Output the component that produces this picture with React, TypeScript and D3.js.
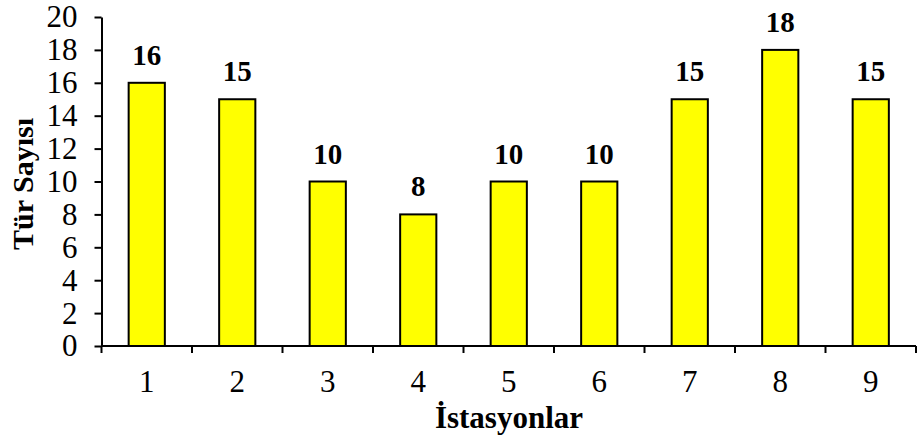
import React, { useEffect, useRef } from "react";
import * as d3 from "d3";

const stations = ["1", "2", "3", "4", "5", "6", "7", "8", "9"];
const speciesCount = [16, 15, 10, 8, 10, 10, 15, 18, 15];
const yTicks = [0, 2, 4, 6, 8, 10, 12, 14, 16, 18, 20];

const App: React.FC = () => {
  const ref = useRef<SVGSVGElement>(null);

  useEffect(() => {
    const width = 920;
    const height = 439;
    const left = 101.5;
    const right = 916;
    const top = 17;
    const bottom = 346;
    const font = "'Liberation Serif', 'Times New Roman', serif";

    const svg = d3.select(ref.current);
    svg.selectAll("*").remove();
    svg.attr("width", width).attr("height", height);

    const x = d3.scaleBand<string>().domain(stations).range([left, right]).paddingInner(0.6).paddingOuter(0.3);
    const xBand = d3.scaleBand<string>().domain(stations).range([left, right]);
    const y = d3.scaleLinear().domain([0, 20]).range([bottom, top]);

    // bars
    svg
      .append("g")
      .selectAll("rect")
      .data(speciesCount)
      .join("rect")
      .attr("x", (_, i) => x(stations[i])!)
      .attr("y", (d) => y(d))
      .attr("width", x.bandwidth())
      .attr("height", (d) => bottom - y(d))
      .attr("fill", "#ffff00")
      .attr("stroke", "#000")
      .attr("stroke-width", 2);

    // value labels
    svg
      .append("g")
      .selectAll("text")
      .data(speciesCount)
      .join("text")
      .attr("x", (_, i) => x(stations[i])! + x.bandwidth() / 2)
      .attr("y", (d) => y(d) - 18)
      .attr("text-anchor", "middle")
      .style("font-family", font)
      .style("font-weight", "bold")
      .style("font-size", "29px")
      .text((d) => d);

    // y axis
    const yAxis = svg
      .append("g")
      .attr("transform", `translate(${left},0)`)
      .call(d3.axisLeft(y).tickValues(yTicks).tickSize(7).tickSizeOuter(0).tickPadding(17));
    yAxis.select(".domain").attr("stroke", "#000").attr("stroke-width", 2);
    yAxis.selectAll(".tick line").attr("stroke", "#000").attr("stroke-width", 2);
    yAxis
      .selectAll(".tick text")
      .style("font-family", font)
      .style("font-size", "31px")
      .attr("fill", "#000");

    // x axis with ticks between categories
    const xAxisG = svg.append("g").attr("transform", `translate(0,${bottom})`);
    xAxisG
      .append("line")
      .attr("x1", left)
      .attr("x2", right)
      .attr("stroke", "#000")
      .attr("stroke-width", 2);
    const boundaries = stations.map((s) => xBand(s)!).concat([right]);
    xAxisG
      .selectAll("line.tk")
      .data(boundaries)
      .join("line")
      .attr("class", "tk")
      .attr("x1", (d) => d)
      .attr("x2", (d) => d)
      .attr("y1", 0)
      .attr("y2", 7)
      .attr("stroke", "#000")
      .attr("stroke-width", 2);
    xAxisG
      .selectAll("text")
      .data(stations)
      .join("text")
      .attr("x", (d) => xBand(d)! + xBand.bandwidth() / 2)
      .attr("y", 46)
      .attr("text-anchor", "middle")
      .style("font-family", font)
      .style("font-size", "31px")
      .text((d) => d);

    // axis titles
    svg
      .append("text")
      .attr("x", 509)
      .attr("y", 428)
      .attr("text-anchor", "middle")
      .style("font-family", font)
      .style("font-weight", "bold")
      .style("font-size", "31px")
      .text("İstasyonlar");

    svg
      .append("text")
      .attr("transform", "translate(33,184) rotate(-90)")
      .attr("text-anchor", "middle")
      .style("font-family", font)
      .style("font-weight", "bold")
      .style("font-size", "30px")
      .text("Tür Sayısı");
  }, []);

  return <svg ref={ref} style={{ position: "absolute", left: 0, top: 0, background: "#fff" }} />;
};

export default App;
